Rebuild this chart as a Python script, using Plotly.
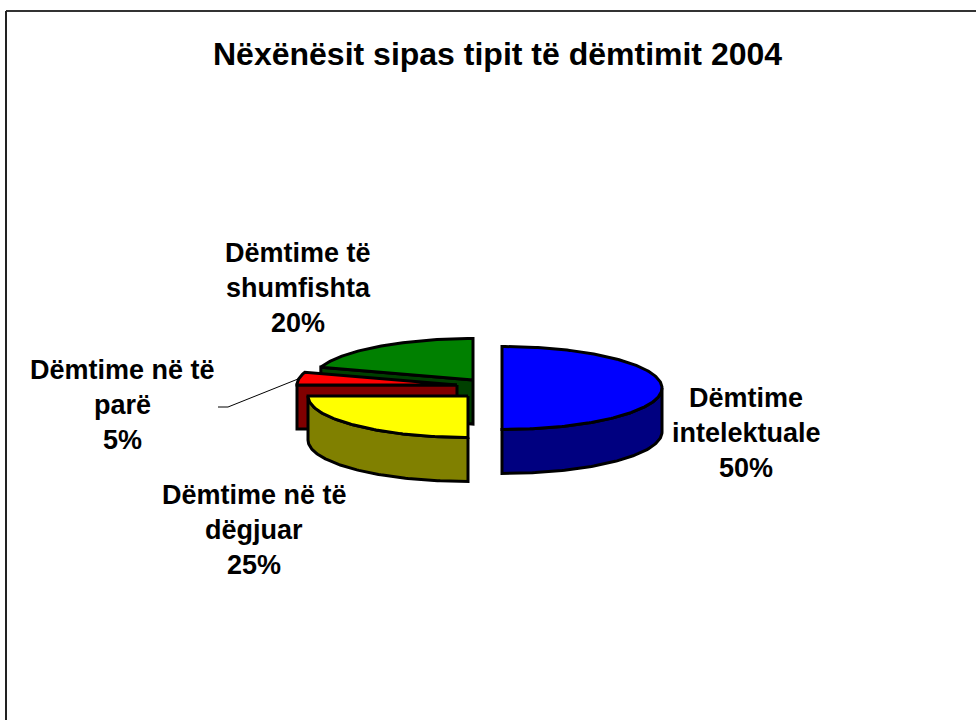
import math
import plotly.graph_objects as go

categories = ["Dëmtime intelektuale", "Dëmtime në të dëgjuar", "Dëmtime në të parë", "Dëmtime të shumfishta"]
values = [50, 25, 5, 20]
top_colors = ["#0000FF", "#FFFF00", "#FF0000", "#008000"]
side_colors = ["#000080", "#808000", "#800000", "#004000"]
title_text = "Nëxënësit sipas tipit të dëmtimit 2004"
label_lines = [
    ["Dëmtime", "intelektuale", "50%"],
    ["Dëmtime në të", "dëgjuar", "25%"],
    ["Dëmtime në të", "parë", "5%"],
    ["Dëmtime të", "shumfishta", "20%"],
]

# layout of the exploded, tilted pie in page pixels
centers = [(502, 388), (468, 396), (457, 385), (473, 380)]
RX, RY, DEPTH = 160, 41.5, 44
label_pos = [(746, 398), (254, 495), (122, 370), (298, 253)]
LINE_GAP = 35
FONT = "Liberation Sans, Arial, sans-serif"
BLACK = "#000000"


def rim(c, deg, drop=0):
    a = math.radians(deg)
    return (c[0] + RX * math.sin(a), c[1] - RY * math.cos(a) + drop)


def arc(c, a0, a1, drop=0):
    n = max(2, int(abs(a1 - a0)) + 1)
    return [rim(c, a0 + (a1 - a0) * i / (n - 1), drop) for i in range(n)]


def poly(fig, pts, color):
    xs = [p[0] for p in pts] + [pts[0][0]]
    ys = [p[1] for p in pts] + [pts[0][1]]
    fig.add_trace(go.Scatter(x=xs, y=ys, mode="lines", fill="toself", fillcolor=color,
                             line=dict(color=BLACK, width=3, shape="linear"),
                             hoverinfo="skip", showlegend=False))


fig = go.Figure()

# wedge angles, clockwise from the top, come from the values
total = sum(values)
angles = []
start = 0.0
for v in values:
    end = start + 360.0 * v / total
    angles.append((start, end))
    start = end

# back to front: green, red, yellow, blue
for i in [3, 2, 1, 0]:
    a0, a1 = angles[i]
    c = centers[i]
    # cut face at the start of the wedge
    r = rim(c, a0)
    if 180 < a0 < 360:
        poly(fig, [c, r, (r[0], r[1] + DEPTH), (c[0], c[1] + DEPTH)], side_colors[i])
    # outer wall where the rim faces the viewer
    lo, hi = max(a0, 90), min(a1, 270)
    if hi > lo:
        poly(fig, arc(c, lo, hi) + arc(c, hi, lo, DEPTH), side_colors[i])
    # top face
    poly(fig, [c] + arc(c, a0, a1), top_colors[i])

# leader line of the small slice
fig.add_trace(go.Scatter(x=[218, 228, 298], y=[407, 407, 379], mode="lines",
                         line=dict(color=BLACK, width=1), hoverinfo="skip", showlegend=False))

annotations = [dict(x=497, y=54, text=f"<b>{title_text}</b>", showarrow=False,
                    xref="x", yref="y", xanchor="center", yanchor="middle",
                    font=dict(family=FONT, size=32, color=BLACK))]
for lines, (lx, ly) in zip(label_lines, label_pos):
    for j, t in enumerate(lines):
        annotations.append(dict(x=lx, y=ly + j * LINE_GAP, text=f"<b>{t}</b>", showarrow=False,
                                xref="x", yref="y", xanchor="center", yanchor="middle",
                                font=dict(family=FONT, size=27, color=BLACK)))

# page frame
shapes = [dict(type="line", xref="x", yref="y", x0=6, y0=11, x1=976, y1=11, line=dict(color="#333333", width=2)),
          dict(type="line", xref="x", yref="y", x0=6, y0=11, x1=6, y1=720, line=dict(color="#222222", width=2))]

fig.update_layout(
    width=976, height=720, autosize=False,
    margin=dict(l=0, r=0, t=0, b=0), paper_bgcolor="white", plot_bgcolor="white",
    xaxis=dict(range=[0, 976], visible=False, fixedrange=True),
    yaxis=dict(range=[720, 0], visible=False, fixedrange=True),
    annotations=annotations, shapes=shapes, showlegend=False,
)
fig.write_html("out.html", config={"displayModeBar": False},
               post_script="document.body.style.margin='0';document.body.style.overflow='hidden';")
